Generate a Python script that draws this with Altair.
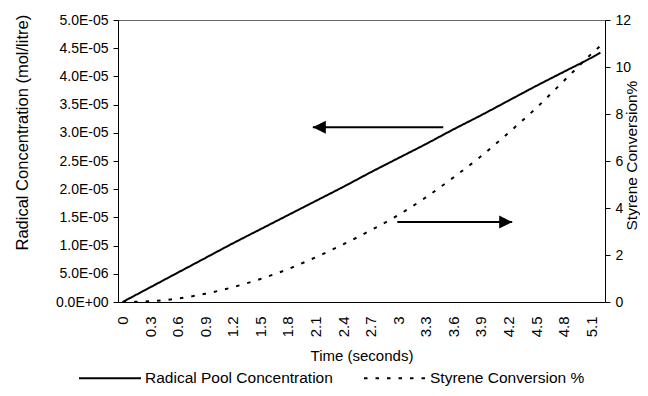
import json
import altair as alt
import pandas as pd

# ---------------- data ----------------
TIME = [0, 0.3, 0.6, 0.9, 1.2, 1.5, 1.8, 2.1, 2.4, 2.7, 3.0, 3.3, 3.6, 3.9, 4.2, 4.5, 4.8, 5.1, 5.2]
RADICAL = [0, 0.26e-5, 0.52e-5, 0.78e-5, 1.04e-5, 1.29e-5, 1.54e-5, 1.79e-5, 2.04e-5, 2.30e-5,
           2.55e-5, 2.80e-5, 3.06e-5, 3.31e-5, 3.57e-5, 3.83e-5, 4.08e-5, 4.33e-5, 4.42e-5]
CONVERSION = [0, 0.03, 0.15, 0.35, 0.63, 0.98, 1.4, 1.9, 2.45, 3.05,
              3.7, 4.45, 5.3, 6.2, 7.2, 8.25, 9.4, 10.55, 10.9]
SERIES = ["Radical Pool Concentration", "Styrene Conversion %"]

X_TICKS = [0, 0.3, 0.6, 0.9, 1.2, 1.5, 1.8, 2.1, 2.4, 2.7, 3, 3.3, 3.6, 3.9, 4.2, 4.5, 4.8, 5.1]
Y_LEFT_TICKS = [0, 0.000005, 0.00001, 0.000015, 0.00002, 0.000025, 0.00003, 0.000035, 0.00004, 0.000045, 0.00005]
Y_LEFT_LABELS = ["0.0E+00", "5.0E-06", "1.0E-05", "1.5E-05", "2.0E-05", "2.5E-05",
                 "3.0E-05", "3.5E-05", "4.0E-05", "4.5E-05", "5.0E-05"]
Y_RIGHT_TICKS = [0, 2, 4, 6, 8, 10, 12]

# annotation arrows (data units): tail time, tip time, level
ARROW_LEFT = {"t": [3.49], "t2": [2.07], "v": [3.10e-5]}
ARROW_RIGHT = {"t": [2.99], "t2": [4.24], "v": [3.40]}

FONT = "Liberation Sans"

rad_df = pd.DataFrame({"t": TIME, "v": RADICAL, "series": SERIES[0]})
conv_df = pd.DataFrame({"t": TIME, "v": CONVERSION, "series": SERIES[1]})
arrow_l_df = pd.DataFrame(ARROW_LEFT)
arrow_r_df = pd.DataFrame(ARROW_RIGHT)


def x_enc(field):
    return alt.X(
        f"{field}:Q",
        scale=alt.Scale(domain=[-0.05, 5.25], nice=False, zero=False),
        axis=alt.Axis(
            values=X_TICKS, format="~g", labelAngle=270, ticks=False, tickSize=0,
            labelPadding=14, labelFontSize=15, title="Time (seconds)", titleFontSize=15,
            titleY=53, titleBaseline="middle", grid=False,
        ),
    )


left_label_expr = json.dumps(Y_LEFT_LABELS) + "[round(datum.value / 0.000005)]"


def y_left():
    return alt.Y(
        "v:Q",
        scale=alt.Scale(domain=[0, 0.00005], nice=False),
        axis=alt.Axis(
            orient="left", values=Y_LEFT_TICKS, labelExpr=left_label_expr,
            tickSize=5, labelPadding=5, labelFontSize=14, grid=False,
            title="Radical Concentration (mol/litre)", titleFontSize=16.5,
            titleAngle=270, titleAlign="left", titleBaseline="middle",
            titleX=-96, titleY=230,
        ),
    )


def y_right():
    return alt.Y(
        "v:Q",
        scale=alt.Scale(domain=[0, 12], nice=False),
        axis=alt.Axis(
            orient="right", values=Y_RIGHT_TICKS, format="d",
            tickSize=5, labelPadding=5, labelFontSize=14, grid=False,
            title="Styrene Conversion%", titleFontSize=15.5,
            titleAngle=270, titleAlign="left", titleBaseline="middle",
            titleX=26, titleY=210,
        ),
    )


dash = alt.StrokeDash(
    "series:N",
    scale=alt.Scale(domain=SERIES, range=[[1, 0], [3.5, 8]]),
    legend=alt.Legend(
        orient="none", legendX=-40, legendY=326, direction="horizontal", title=None,
        symbolType="stroke", symbolSize=3844, symbolStrokeWidth=2,
        symbolStrokeColor="black", labelFontSize=15.5, labelFont=FONT, labelLimit=400,
        labelColor="black", columnPadding=27, labelOffset=3, padding=0,
    ),
)

rad_line = alt.Chart(rad_df).mark_line(color="black", strokeWidth=2, interpolate="monotone").encode(
    x=x_enc("t"), y=y_left(), strokeDash=dash
)
conv_line = alt.Chart(conv_df).mark_line(color="black", strokeWidth=2, interpolate="monotone").encode(
    x=x_enc("t"), y=y_right(), strokeDash=dash
)

arrow_l_rule = alt.Chart(arrow_l_df).mark_rule(color="black", strokeWidth=2).encode(
    x=x_enc("t"), x2="t2:Q", y=y_left()
)
arrow_l_head = alt.Chart(arrow_l_df).mark_point(
    shape="M0,0L2,-1L2,1Z", size=169, filled=True, color="black", opacity=1
).encode(x=x_enc("t2"), y=y_left())

arrow_r_rule = alt.Chart(arrow_r_df).mark_rule(color="black", strokeWidth=2).encode(
    x=x_enc("t"), x2="t2:Q", y=y_right()
)
arrow_r_head = alt.Chart(arrow_r_df).mark_point(
    shape="M0,0L-2,-1L-2,1Z", size=169, filled=True, color="black", opacity=1
).encode(x=x_enc("t2"), y=y_right())

left_group = alt.layer(rad_line, arrow_l_rule, arrow_l_head)
right_group = alt.layer(conv_line, arrow_r_rule, arrow_r_head)

chart = (
    alt.layer(left_group, right_group)
    .resolve_scale(y="independent")
    .properties(
        width=487, height=282,
        autosize=alt.AutoSizeParams(type="none"),
        padding={"left": 110, "top": 12, "right": 35, "bottom": 86},
        background="white",
    )
    .configure_view(stroke="#666666", strokeWidth=1)
    .configure_axis(
        labelFont=FONT, titleFont=FONT, labelColor="black", titleColor="black",
        domainColor="black", tickColor="black", titleFontWeight="normal", domainWidth=1,
    )
)

chart.save("out.html", embed_options={"renderer": "svg", "actions": False})
